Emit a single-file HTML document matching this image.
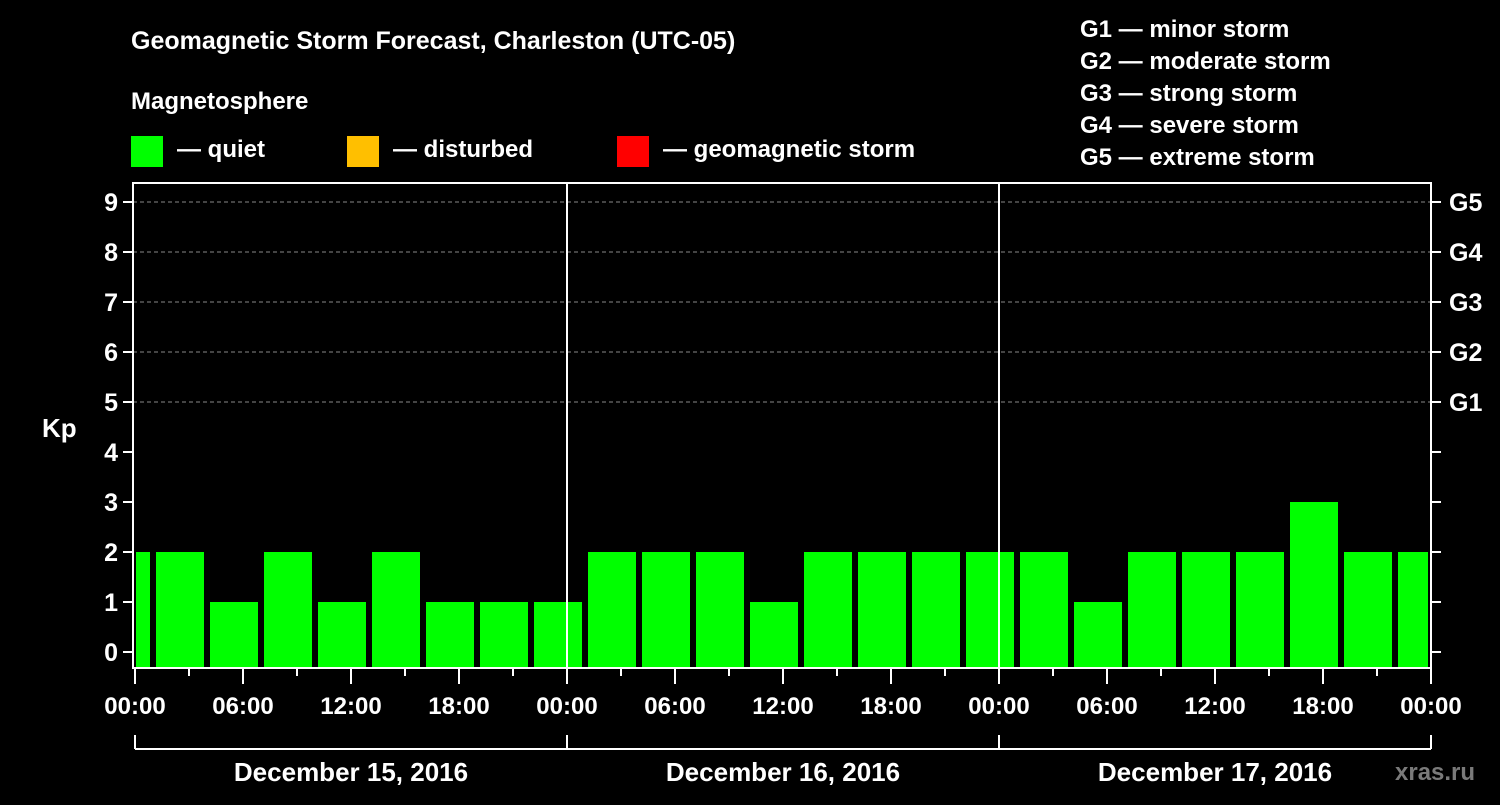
<!DOCTYPE html>
<html><head><meta charset="utf-8"><style>
body{margin:0;background:#000;width:1500px;height:800px;overflow:hidden;font-family:"Liberation Sans",sans-serif}
svg text{font-family:"Liberation Sans",sans-serif;font-weight:bold;fill:#fff}
</style></head><body>
<svg id="c" width="1500" height="800">
<text x="131" y="49" font-size="25">Geomagnetic Storm Forecast, Charleston (UTC-05)</text>
<text x="131" y="109" font-size="24">Magnetosphere</text>
<rect x="131" y="136" width="32" height="31" fill="#00ff00"/>
<text x="177" y="157" font-size="24">— quiet</text>
<rect x="347" y="136" width="32" height="31" fill="#ffbf00"/>
<text x="393" y="157" font-size="24">— disturbed</text>
<rect x="617" y="136" width="32" height="31" fill="#ff0000"/>
<text x="663" y="157" font-size="24">— geomagnetic storm</text>
<g font-size="24">
<text x="1080" y="37">G1 — minor storm</text>
<text x="1080" y="69">G2 — moderate storm</text>
<text x="1080" y="101">G3 — strong storm</text>
<text x="1080" y="133">G4 — severe storm</text>
<text x="1080" y="165">G5 — extreme storm</text>
</g>
<text x="42" y="437" font-size="26">Kp</text>
<text x="1395" y="780" font-size="24" fill="#888" style="fill:#7a7a7a">xras.ru</text>
<g id="g"></g>
</svg>
<script>
const kpValues=[2,2,1,2,1,2,1,1,1,2,2,2,1,2,2,2,2,2,1,2,2,2,3,2,2];
const startHour=-2;
const dayLabels=["December 15, 2016","December 16, 2016","December 17, 2016"];
const yTicks=[0,1,2,3,4,5,6,7,8,9];
const gLabels=["G1","G2","G3","G4","G5"];
const xTickLabels=["00:00","06:00","12:00","18:00","00:00","06:00","12:00","18:00","00:00","06:00","12:00","18:00","00:00"];
const L=133,X0=135,R=1431,T=183,B=668;
const x=h=>X0+h*18, y=v=>652-v*50;
const g=document.getElementById('g');const NS='http://www.w3.org/2000/svg';
function mk(t,a,p){const e=document.createElementNS(NS,t);for(const k in a)e.setAttribute(k,a[k]);(p||g).appendChild(e);return e;}
yTicks.forEach(v=>{if(v>=5){const l=mk('line',{x1:L,x2:R,y1:y(v),y2:y(v),stroke:'#888','stroke-dasharray':'4,3','stroke-width':1});

}});
kpValues.forEach((v,i)=>{let h0=startHour+i*3,x1=Math.max(x(h0)+3,L+3),x2=Math.min(x(h0+3)-3,R-3);
const r=mk('rect',{x:x1,y:y(v),width:x2-x1,height:B-y(v),fill:'#00ff00'});

});
[24,48].forEach(h=>{const l=mk('line',{x1:x(h),x2:x(h),y1:T,y2:B,stroke:'#fff','stroke-width':2});

});
const f=mk('rect',{x:L,y:T,width:R-L,height:B-T,fill:'none',stroke:'#fff','stroke-width':2});


yTicks.forEach(v=>{mk('line',{x1:L-10,x2:L,y1:y(v),y2:y(v),stroke:'#fff','stroke-width':2});mk('line',{x1:R,x2:R+10,y1:y(v),y2:y(v),stroke:'#fff','stroke-width':2});
const t=mk('text',{x:118,y:y(v)+9,'font-size':25,'text-anchor':'end'});t.textContent=v;

});
gLabels.forEach((s,i)=>{const t=mk('text',{x:1449,y:y(5+i)+9,'font-size':25});t.textContent=s;

});
for(let h=0;h<=72;h+=3){mk('line',{x1:x(h),x2:x(h),y1:B,y2:B+(h%6?8:16),stroke:'#fff','stroke-width':2});}
xTickLabels.forEach((s,i)=>{const t=mk('text',{x:x(i*6),y:714,'font-size':24,'text-anchor':'middle'});t.textContent=s;

});
mk('line',{x1:x(0),x2:x(72),y1:749,y2:749,stroke:'#fff','stroke-width':2});
[0,24,48,72].forEach(h=>mk('line',{x1:x(h),x2:x(h),y1:735,y2:749,stroke:'#fff','stroke-width':2}));
dayLabels.forEach((s,i)=>{const t=mk('text',{x:x(i*24+12),y:781,'font-size':26,'text-anchor':'middle'});t.textContent=s;

});
</script>
</body></html>
